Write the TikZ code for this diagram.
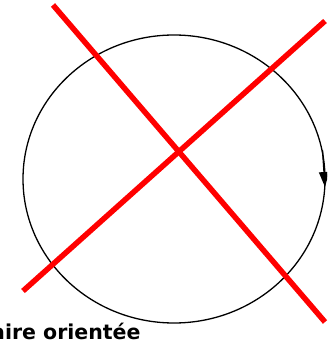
\documentclass[tikz,border=0pt]{standalone}
\usepackage{fontspec}
\setsansfont{DejaVu Sans}
\usetikzlibrary{arrows.meta}

\begin{document}
\begin{tikzpicture}[x=1pt,y=-1pt,>={Triangle[length=15pt,width=10pt]},
  cross/.style={draw=red,line width=5.5pt},
  loopline/.style={draw=black,line width=1.3pt}]
\useasboundingbox (0,0) rectangle (327,344);
\clip (0,0) rectangle (327,344);
% oriented loop
\draw[loopline] (174,179) ellipse [x radius=151,y radius=144];
\draw[loopline,->] (322.5,150) -- (325,187);
% the cross
\coordinate (c1a) at (53,5);
\coordinate (c1b) at (325,322);
\coordinate (c2a) at (23,291);
\coordinate (c2b) at (325,21);
\draw[cross] (c1a) -- (c1b);
\draw[cross] (c2a) -- (c2b);
\node[anchor=base west,inner sep=0pt,font=\sffamily\bfseries\fontsize{20.5}{24}\selectfont] (label) at (-9,339) {aire orientée};
\end{tikzpicture}
\end{document}
